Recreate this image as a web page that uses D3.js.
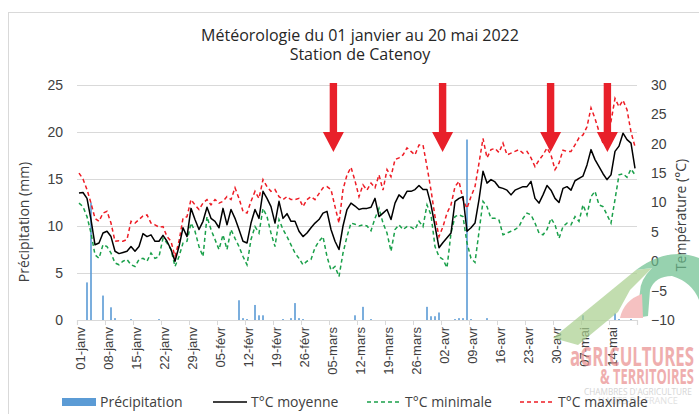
<!DOCTYPE html>
<html><head><meta charset="utf-8">
<script src="https://cdn.jsdelivr.net/npm/d3@7"></script>
<style>
html,body{margin:0;padding:0;background:#fff;}
svg{display:block;font-family:"Open Sans","Noto Sans",sans-serif;}
</style></head>
<body>
<svg id="c" width="699" height="414"></svg>
<script>
// ---------- DATA ----------
const startDate = "2022-01-01";
const nDays = 140; // 01 janv -> 20 mai
const tickLabels = ["01-janv","08-janv","15-janv","22-janv","29-janv","05-févr","12-févr","19-févr","26-févr","05-mars","12-mars","19-mars","26-mars","02-avr","09-avr","16-avr","23-avr","30-avr","07-mai","14-mai"];
const tempMoy = [11.6,11.7,10.7,7.1,2.8,3.1,4.8,5.1,4.2,1.7,1.3,1.5,1.7,2.5,1.7,2.5,4.7,4.2,4.5,3.4,3.4,4.4,3.4,2.0,0.0,2.5,5.7,4.2,9.0,7.1,5.4,6.8,9.2,7.3,6.8,5.7,9.0,6.2,8.8,7.3,5.4,3.4,3.1,6.5,8.8,7.3,11.9,10.7,9.3,6.5,10.2,7.3,8.1,6.8,6.8,5.1,4.2,4.8,5.7,6.5,7.1,8.2,8.5,5.4,3.4,2.0,6.0,8.8,9.9,9.4,8.8,9.0,9.0,9.2,10.7,7.6,8.2,8.8,7.1,9.9,11.3,10.7,11.9,11.9,12.2,12.9,12.2,12.2,9.6,6.0,2.3,3.2,4.0,4.8,10.2,10.7,11.0,5.1,5.7,6.5,10.5,15.3,13.3,13.9,13.5,12.6,12.4,12.1,11.3,12.1,12.4,12.7,12.7,13.6,10.7,9.9,11.3,12.9,12.1,10.7,10.0,12.4,12.7,12.1,13.7,14.1,14.5,16.4,19.0,17.3,16.1,14.9,13.9,14.7,18.7,19.6,21.8,20.7,20.1,15.8];
const tempMin = [9.9,9.3,7.6,4.8,1.1,0.5,2.8,2.5,1.4,-0.3,-0.6,0.0,0.3,-0.6,-0.9,0.3,0.5,0.0,1.4,0.5,0.8,3.9,3.1,2.0,-0.9,0.8,3.1,3.4,6.5,5.1,2.5,0.8,7.6,5.4,3.7,2.0,4.5,2.0,5.4,3.9,2.5,0.8,-0.6,3.7,5.9,4.8,9.0,7.6,4.8,2.5,7.1,5.4,4.2,2.8,1.4,0.5,-0.6,0.0,0.3,2.3,3.4,4.2,0.8,-1.5,-0.9,-2.6,1.4,4.2,6.5,6.3,6.0,6.2,6.0,5.2,7.3,9.0,6.5,4.8,1.7,5.4,6.2,5.4,5.9,5.8,5.4,6.8,5.9,9.6,7.9,2.5,0.8,0.3,-1.1,4.8,7.6,7.9,7.6,3.1,0.5,-0.2,5.0,10.2,9.3,7.3,7.3,7.0,4.5,4.8,5.1,5.4,5.9,7.3,8.2,7.9,6.5,4.8,4.5,5.4,7.3,6.2,3.9,5.9,6.5,6.2,7.6,6.8,9.6,7.9,11.0,11.9,9.6,9.3,7.9,6.5,10.5,14.7,14.9,14.3,15.7,14.7];
const tempMax = [15.0,14.0,12.2,9.9,7.3,6.8,8.2,8.5,6.5,3.4,3.5,3.4,3.7,6.8,6.5,7.1,7.7,7.9,6.5,6.2,5.8,5.9,4.2,3.4,0.8,3.4,7.3,7.6,10.5,9.6,8.8,9.9,10.5,9.6,10.5,9.9,10.2,11.0,10.5,12.5,10.7,8.5,8.2,10.2,11.9,10.7,13.9,12.7,11.9,12.2,11.0,10.5,11.0,10.5,10.5,10.7,9.3,10.5,11.0,10.5,11.5,12.5,12.7,12.2,9.3,6.5,12.2,14.7,16.0,13.7,11.0,13.0,12.1,13.3,12.5,14.7,12.1,15.6,14.4,17.3,17.6,18.1,19.3,18.7,18.1,19.8,19.8,16.1,12.1,7.6,4.2,5.9,8.2,9.6,12.7,13.6,10.5,9.0,11.0,12.7,16.7,20.9,17.6,19.0,19.2,18.5,20.1,18.1,18.4,18.7,19.0,18.4,18.7,17.6,16.1,17.2,18.1,19.3,18.1,15.6,16.7,18.9,18.7,18.7,19.8,21.0,21.5,22.9,26.1,24.3,22.1,20.1,20.4,23.8,27.7,26.3,27.4,25.8,22.0,19.5];
const precip = [0,0,4.0,12.5,0,0,2.6,0,1.35,0.2,0,0,0,0.1,0,0,0,0,0,0,0.1,0,0,0,0,0,0,0,0,0,0,0,0,0,0,0,0,0,0,0,2.1,0.2,0.1,0,1.6,0.5,0.5,0,0,0,0,0.1,0,0.2,1.8,0.2,0.1,0,0,0,0,0,0,0,0,0,0,0,0,0.5,0,1.4,0,0.1,0,0,0,0,0,0,0,0,0,0,0,0,0,1.4,0.4,0.4,0.8,0,0,0,0.1,0.2,0.2,19.2,0.1,0,0,0,0.2,0,0,0,0,0,0,0,0,0,0,0,0,0,0,0,0,0,0,0,0,0,0,0,0.5,0,0,0,0,0,0,0,0.7,0.1,0,0,0.1,0];
const precipTicks = [0,5,10,15,20,25];
const tempTicks = [-10,-5,0,5,10,15,20,25,30];
const arrowDays = [63.6, 90.9, 117.9, 132.1];
const seriesNames = ["Précipitation","T°C moyenne","T°C minimale","T°C maximale"];
const logoLines = ["aGRICULTURES","& TERRITOIRES","CHAMBRES D'AGRICULTURE","HAUTS-DE-FRANCE"];

// ---------- CHART ----------
const svg = d3.select("#c");
const m = {l:77, r:637, t:85, b:320};
const col = {txt:"#404040", grid:"#d9d9d9", bar:"#5b9bd5", moy:"#000000", min:"#1aa04a", max:"#ee1c25", arrow:"#e8202a"};

// frame (right/bottom edges lie outside the picture)
svg.append("rect").attr("x",8.5).attr("y",12.5).attr("width",720).attr("height",420)
  .attr("fill","none").attr("stroke","#d9d9d9");

const days = d3.range(nDays);
const x = d3.scaleBand().domain(days).range([m.l, m.r]).paddingInner(0.6).paddingOuter(0.3);
const xc = i => m.l + (m.r-m.l)*(i+0.5)/nDays;
const xb = d3.scaleLinear().domain([0,nDays]).range([m.l,m.r]);
const yP = d3.scaleLinear().domain([0,25]).range([m.b,m.t]);
const yT = d3.scaleLinear().domain([-10,30]).range([m.b,m.t]);

// gridlines + left axis
const gl = svg.append("g").attr("transform",`translate(${m.l},0)`)
  .call(d3.axisLeft(yP).tickValues(precipTicks).tickSize(-(m.r-m.l)).tickPadding(14).tickFormat(d3.format("d")));
gl.select(".domain").remove();
gl.selectAll(".tick line").attr("stroke",col.grid).attr("stroke-width",1.2);
gl.selectAll(".tick text").attr("fill",col.txt).attr("font-size",14);

// right axis
const gr = svg.append("g").attr("transform",`translate(${m.r},0)`)
  .call(d3.axisRight(yT).tickValues(tempTicks).tickSize(0).tickPadding(14).tickFormat(d3.format("d")));
gr.select(".domain").remove();
gr.selectAll(".tick text").attr("fill",col.txt).attr("font-size",14);

// bottom axis ticks
const gb = svg.append("g").attr("transform",`translate(0,${m.b})`)
  .call(d3.axisBottom(xb).tickValues(d3.range(0,nDays+1,7)).tickSize(5).tickFormat(""));
gb.select(".domain").attr("stroke",col.grid).attr("stroke-width",1.2);
gb.selectAll(".tick line").attr("stroke",col.grid);

// bottom labels
const labIdx = d3.range(0,nDays,7);
const gx = svg.append("g").attr("transform",`translate(0,${m.b})`)
  .call(d3.axisBottom(x).tickValues(labIdx).tickSize(0).tickFormat((d,k)=>tickLabels[k]));
gx.select(".domain").remove();
gx.selectAll(".tick text").attr("fill",col.txt).attr("font-size",13)
  .attr("text-anchor","end").attr("transform","translate(1,7) rotate(-90)")
  .attr("dy","0.35em").attr("x",0).attr("y",0);

// bars
svg.append("g").selectAll("rect").data(precip).join("rect")
  .attr("x",(d,i)=>x(i)).attr("width",x.bandwidth())
  .attr("y",d=>yP(d)).attr("height",d=>yP(0)-yP(d)).attr("fill",col.bar);

// lines
const line = d3.line().x((d,i)=>xc(i)).y(d=>yT(d));
svg.append("path").datum(tempMin).attr("d",line).attr("fill","none")
  .attr("stroke",col.min).attr("stroke-width",1.5).attr("stroke-dasharray","4,3");
svg.append("path").datum(tempMax).attr("d",line).attr("fill","none")
  .attr("stroke",col.max).attr("stroke-width",1.5).attr("stroke-dasharray","4,3");
svg.append("path").datum(tempMoy).attr("d",line).attr("fill","none")
  .attr("stroke",col.moy).attr("stroke-width",1.5).attr("stroke-linejoin","round");

// arrows
const ga = svg.append("g");
arrowDays.forEach(d=>{
  const cx = xc(d);
  ga.append("path").attr("fill",col.arrow)
    .attr("d",`M${cx-3.7},83 L${cx+3.7},83 L${cx+3.7},132 L${cx+10.5},132 L${cx},152 L${cx-10.5},132 L${cx-3.7},132 Z`);
});

// titles
svg.append("text").attr("x",360).attr("y",41).attr("text-anchor","middle")
  .attr("font-size",16).attr("fill","#262626").text("Météorologie du 01 janvier au 20 mai 2022");
svg.append("text").attr("x",360).attr("y",60).attr("text-anchor","middle")
  .attr("font-size",16).attr("fill","#262626").text("Station de Catenoy");
svg.append("text").attr("transform","translate(29,222) rotate(-90)").attr("text-anchor","middle")
  .attr("font-size",14).attr("fill",col.txt).text("Précipitation (mm)");
svg.append("text").attr("transform","translate(686,215) rotate(-90)").attr("text-anchor","middle")
  .attr("font-size",14).attr("fill",col.txt).text("Température (°C)");

// logo watermark (approximate), squeezed horizontally to fit the corner
const lg = svg.append("g").attr("opacity",0.7);
lg.append("path").attr("fill","#a9cf8e").attr("d","M553,338 L636,270 L652,268 L630,290 L618,312 L578,345 Z");
lg.append("path").attr("fill","#6cbf8e").attr("d","M636,270 Q668,246 699,258 L699,300 Q692,282 672,276 Q655,276 650,290 L648,316 L636,318 L640,292 Q640,280 652,268 Z");
lg.append("path").attr("fill","#f2a7a7").attr("d","M620,318 Q624,300 642,294 L643,318 Z");
const logoSpec = [
  {x:570, y:366, size:26, w:124, fill:"#e98c8c", bold:true},
  {x:600, y:384, size:21, w:94, fill:"#e98c8c", bold:true},
  {x:584, y:395, size:9, w:108, fill:"#c4c4c4", bold:false},
  {x:598, y:404, size:9, w:80, fill:"#d4d4d4", bold:false}
];
logoSpec.forEach((s,k)=>{
  const t = lg.append("text").attr("font-size",s.size).attr("font-weight",s.bold?"bold":"normal")
    .attr("fill",s.fill).text(logoLines[k]);
  const nat = t.node().getComputedTextLength();
  const sx = s.w / nat;
  t.attr("transform",`translate(${s.x},${s.y}) scale(${sx},1)`);
});

// legend
const lgd = svg.append("g").attr("font-size",14).attr("fill",col.txt);
lgd.append("rect").attr("x",62).attr("y",398).attr("width",34).attr("height",8).attr("fill",col.bar);
lgd.append("text").attr("x",100).attr("y",407).text(seriesNames[0]);
lgd.append("line").attr("x1",213).attr("x2",247).attr("y1",402).attr("y2",402).attr("stroke",col.moy).attr("stroke-width",1.5);
lgd.append("text").attr("x",251).attr("y",407).text(seriesNames[1]);
lgd.append("line").attr("x1",367).attr("x2",401).attr("y1",402).attr("y2",402).attr("stroke",col.min).attr("stroke-width",1.5).attr("stroke-dasharray","4,3");
lgd.append("text").attr("x",405).attr("y",407).text(seriesNames[2]);
lgd.append("line").attr("x1",520).attr("x2",554).attr("y1",402).attr("y2",402).attr("stroke",col.max).attr("stroke-width",1.5).attr("stroke-dasharray","4,3");
lgd.append("text").attr("x",558).attr("y",407).text(seriesNames[3]);
</script>
</body></html>
